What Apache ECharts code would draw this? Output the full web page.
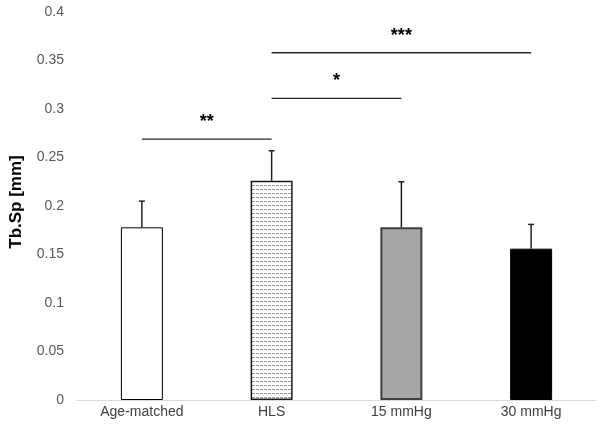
<!DOCTYPE html>
<html>
<head>
<meta charset="utf-8">
<script src="https://cdn.jsdelivr.net/npm/echarts@6/dist/echarts.min.js"></script>
<style>html,body{margin:0;padding:0;background:#fff}#c{width:602px;height:430px}</style>
</head>
<body>
<div id="c"></div>
<script>
// ---- data ----
var categories = ['Age-matched', 'HLS', '15 mmHg', '30 mmHg'];
var means = [0.178, 0.226, 0.178, 0.156];
var errors = [0.027, 0.031, 0.047, 0.025];
var yTicks = [0, 0.05, 0.1, 0.15, 0.2, 0.25, 0.3, 0.35, 0.4];
var sigFrom = [0, 1, 1];
var sigTo = [1, 2, 3];
var sigY = [0.269, 0.311, 0.358];
var sigLabel = ['**', '*', '***'];

// ---- pattern for HLS bar ----
var pc = document.createElement('canvas');
pc.width = 4; pc.height = 4;
var pctx = pc.getContext('2d');
pctx.fillStyle = '#ffffff'; pctx.fillRect(0, 0, 4, 4);
pctx.fillStyle = '#9a9a9a'; pctx.fillRect(0, 1, 3, 1);

var barStyles = [
  { color: '#ffffff', borderColor: '#000000', borderWidth: 1 },
  { color: { image: pc, repeat: 'repeat' }, borderColor: '#1a1a1a', borderWidth: 1.5 },
  { color: '#a6a6a6', borderColor: '#3f3f3f', borderWidth: 2 },
  { color: '#000000', borderColor: '#000000', borderWidth: 1 }
];

var barData = means.map(function (v, i) { return { value: v, itemStyle: barStyles[i] }; });
var errData = means.map(function (v, i) { return [i, v, v + errors[i]]; });
var sigData = sigFrom.map(function (f, i) { return [f, sigTo[i], sigY[i], i]; });

var chart = echarts.init(document.getElementById('c'), null, { renderer: 'canvas' });
chart.setOption({
  animation: false,
  backgroundColor: '#ffffff',
  grid: { left: 76, right: 6, top: 12, bottom: 30, containLabel: false },
  xAxis: {
    type: 'category',
    data: categories,
    axisLine: { show: true, lineStyle: { color: '#d9d9d9', width: 1 } },
    axisTick: { show: false },
    axisLabel: { color: '#404040', fontSize: 14, fontFamily: 'Arial, Liberation Sans', margin: 5 }
  },
  yAxis: {
    type: 'value',
    min: 0, max: 0.4, interval: 0.05,
    name: 'Tb.Sp [mm]',
    nameLocation: 'middle',
    nameGap: 52,
    nameRotate: 90,
    nameTextStyle: { fontSize: 17, fontWeight: 'bold', color: '#000', fontFamily: 'Arial, Liberation Sans', padding: [0, 0, 0, 8] },
    axisLine: { show: false },
    axisTick: { show: false },
    splitLine: { show: false },
    axisLabel: {
      color: '#595959', fontSize: 14, fontFamily: 'Arial, Liberation Sans', margin: 13,
      formatter: function (v) {
        for (var k = 0; k < yTicks.length; k++) { if (Math.abs(yTicks[k] - v) < 1e-9) return String(yTicks[k]); }
        return '';
      }
    }
  },
  series: [
    { type: 'bar', data: barData, barWidth: 42, z: 2 },
    {
      type: 'custom', z: 3,
      data: errData,
      renderItem: function (params, api) {
        var base = api.coord([api.value(0), api.value(1)]);
        var top = api.coord([api.value(0), api.value(2)]);
        return {
          type: 'group',
          children: [
            { type: 'line', shape: { x1: base[0], y1: base[1], x2: top[0], y2: top[1] }, style: { stroke: '#222', lineWidth: 1.5 } },
            { type: 'line', shape: { x1: top[0] - 3, y1: top[1], x2: top[0] + 3, y2: top[1] }, style: { stroke: '#222', lineWidth: 1.5 } }
          ]
        };
      }
    },
    {
      type: 'custom', z: 3,
      data: sigData,
      renderItem: function (params, api) {
        var a = api.coord([api.value(0), api.value(2)]);
        var b = api.coord([api.value(1), api.value(2)]);
        var lbl = sigLabel[api.value(3)];
        return {
          type: 'group',
          children: [
            { type: 'line', shape: { x1: a[0], y1: a[1], x2: b[0], y2: b[1] }, style: { stroke: '#262626', lineWidth: 1.3 } },
            { type: 'text', style: { x: (a[0] + b[0]) / 2, y: a[1] - 17, text: lbl, fill: '#000', font: 'bold 18px Arial, Liberation Sans', textAlign: 'center', textVerticalAlign: 'middle' } }
          ]
        };
      }
    }
  ]
});
</script>
</body>
</html>
